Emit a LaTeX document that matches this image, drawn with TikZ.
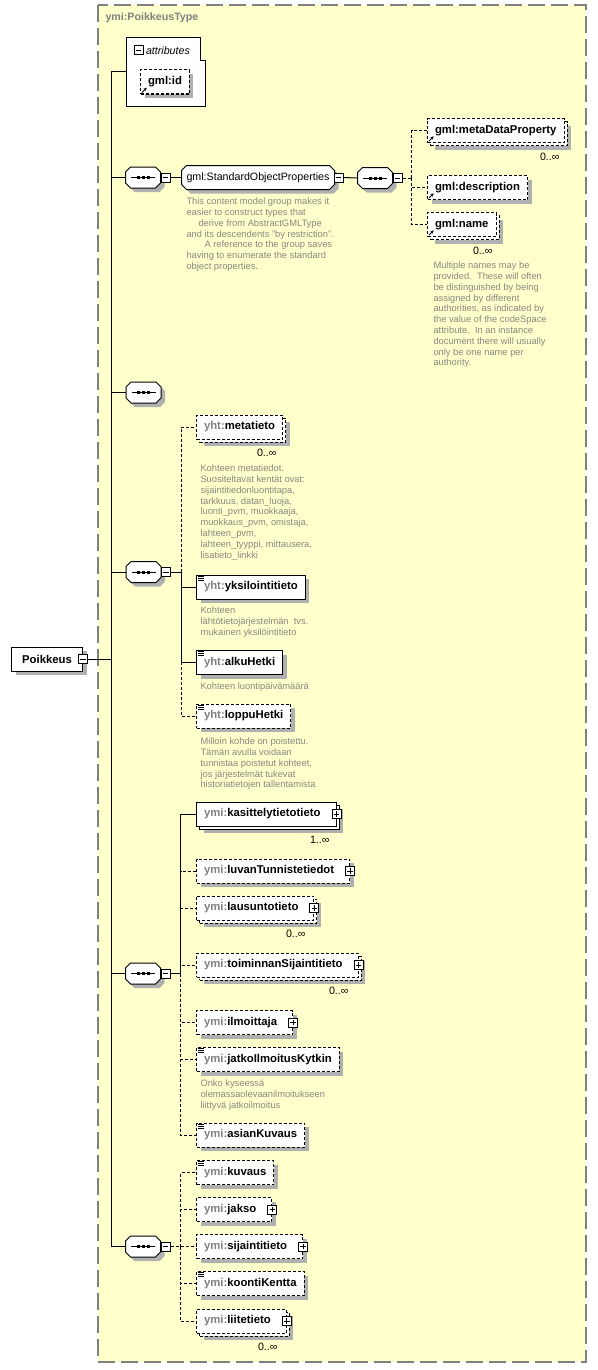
\documentclass[tikz,border=0pt]{standalone}
\usepackage{fontspec}
\setmainfont{Liberation Sans}
\usetikzlibrary{positioning,shadows,arrows.meta}
\definecolor{typefill}{RGB}{255,255,204}
\definecolor{typeline}{RGB}{128,128,128}
\definecolor{shadowgray}{RGB}{176,176,176}
\definecolor{nsgray}{RGB}{128,128,128}
\definecolor{notegray}{RGB}{136,136,128}

\newcommand\ns[1]{\textcolor{nsgray}{#1}}
\newcommand\elfont{\bfseries\fontsize{8.5}{10}\selectfont}
\newcommand\pgap{\kern6pt}
\newcommand\cutbox[2]{([xshift=#2]#1.north west) -- ([xshift=-#2]#1.north east) -- ([yshift=-#2]#1.north east) -- ([yshift=#2]#1.south east) -- ([xshift=-#2]#1.south east) -- ([xshift=#2]#1.south west) -- ([yshift=#2]#1.south west) -- ([yshift=-#2]#1.north west) -- cycle}

\tikzset{
	sh/.style={drop shadow={shadow xshift=3pt,shadow yshift=-3pt,opacity=1,fill=shadowgray}},
	many/.style={drop shadow={shadow xshift=5.25pt,shadow yshift=-5.25pt,opacity=1,fill=shadowgray},
		copy shadow={shadow xshift=2.25pt,shadow yshift=-2.25pt,fill=white,draw=black}},
	elem/.style={draw,fill=white,font=\elfont,inner xsep=5.625pt,inner ysep=0pt,minimum height=18pt,anchor=west},
	optelem/.style={elem,dash pattern=on 2.25pt off 1.5pt},
	optcon/.style={dash pattern=on 2.25pt off 1.5pt},
	comp/.style={minimum width=25.5pt,minimum height=15pt,inner sep=0pt},
	minusbox/.style={draw,fill=white,minimum size=6.75pt,inner sep=0pt,
		path picture={\draw ([xshift=1.3pt]path picture bounding box.west) -- ([xshift=-1.3pt]path picture bounding box.east);}},
	plusbox/.style={draw,fill=white,minimum size=6.75pt,inner sep=0pt,
		path picture={\draw ([xshift=1.3pt]path picture bounding box.west) -- ([xshift=-1.3pt]path picture bounding box.east);
			\draw ([yshift=1.3pt]path picture bounding box.south) -- ([yshift=-1.3pt]path picture bounding box.north);}},
	card/.style={anchor=east,inner sep=0pt,font=\fontsize{8}{10}\selectfont},
	desc/.style={anchor=north west,inner sep=0pt,align=left,text=notegray,font=\fontsize{7}{8.1}\selectfont}
}

\begin{document}
\begin{tikzpicture}[x=0.75pt,y=-0.75pt,line width=0.75pt]
	\useasboundingbox (0,0) rectangle (597,1370);
	% the complex type
	\draw[typeline,fill=typefill,line width=1.1pt,dash pattern=on 12.75pt off 4.5pt] (98,5) rectangle (586,1362);
	\node[anchor=west,inner sep=0pt,text=nsgray,font=\bfseries\fontsize{8}{10}\selectfont] (title) at (105,18) {ymi:PoikkeusType};
	
	\node[elem,sh,minimum width=53.25pt] (root) at (11,659) {Poikkeus};
	\node[minusbox] (mroot) at (root.east) {};
	\coordinate (trunk) at (111,0);
	
	% attributes
	\node[inner sep=0pt,minimum width=58.5pt,minimum height=50.25pt,anchor=north west] (attbox) at (126,38) {};
	\draw[fill=white] (attbox.north west) -- ([xshift=-3.75pt]attbox.north east) -- ([xshift=-3.75pt,yshift=-17.25pt]attbox.north east)
		-- ([yshift=-17.25pt]attbox.north east) -- (attbox.south east) -- (attbox.south west) -- cycle;
	\node[minusbox] (matt) at (138.5,50.5) {};
	\node[anchor=west,inner sep=0pt,font=\itshape\fontsize{8}{10}\selectfont] (attlbl) at ([xshift=1.5pt]matt.east) {attributes};
	\node[optelem,sh] (gmlid) at (140,82) {gml:id};
	
	% compositors and the group
	\node[comp] (seq1) at (143,177.5) {};
	\node[comp] (seq2) at (143.5,392.5) {};
	\node[comp] (seq3) at (143.5,572) {};
	\node[comp] (seq4) at (143,973.5) {};
	\node[comp] (seq5) at (143,1246.5) {};
	\node[comp] (seqg) at (375,178) {};
	\node[inner sep=0pt,minimum width=114pt,minimum height=17.25pt] (grp) at (258,177.5) {};
	\foreach \n in {seq1,seq2,seq3,seq4,seq5,seqg,grp}
		\draw[fill=white,sh] \cutbox{\n}{3.75pt};
	\foreach \n in {seq1,seq2,seq3,seq4,seq5,seqg}{
		\draw ([xshift=-9pt]\n.center) -- ([xshift=9pt]\n.center);
		\foreach \dx in {-3.75pt,0pt,3.75pt}
			\fill ([xshift=\dx]\n.center) +(-1.5,-1.5) rectangle +(1.5,1.5);
	}
	\node[inner sep=0pt,font=\fontsize{8}{10}\selectfont] (grptxt) at (grp.center) {gml:StandardObjectProperties};
	
	\node[minusbox,right=0pt of seq1] (m1) {};
	\node[minusbox,right=0pt of seq3] (m3) {};
	\node[minusbox,right=0pt of seq4] (m4) {};
	\node[minusbox,right=0pt of seq5] (m5) {};
	\node[minusbox,right=0pt of seqg] (mg) {};
	\node[minusbox] (mgrp) at ([xshift=3pt]grp.east) {};
	
	% elements
	\node[optelem,many] (meta) at (427,130.5) {gml:metaDataProperty};
	\node[optelem,sh] (descr) at (427,187.5) {gml:description};
	\node[optelem,many] (gname) at (427,224.5) {gml:name};
	
	\node[optelem,many] (metat) at (196,427) {\ns{yht:}metatieto};
	\node[elem,sh] (yks) at (196,587) {\ns{yht:}yksilointitieto};
	\node[elem,sh] (alku) at (196,662.5) {\ns{yht:}alkuHetki};
	\node[optelem,sh] (loppu) at (196,716) {\ns{yht:}loppuHetki};
	
	\node[elem,many] (kas) at (196,814) {\ns{ymi:}kasittelytietotieto\pgap};
	\node[optelem,sh] (luvan) at (196,871) {\ns{ymi:}luvanTunnistetiedot\pgap};
	\node[optelem,many] (lausu) at (196,908) {\ns{ymi:}lausuntotieto\pgap};
	\node[optelem,many] (toimi) at (196,965) {\ns{ymi:}toiminnanSijaintitieto\pgap};
	\node[optelem,sh] (ilmo) at (196,1022.5) {\ns{ymi:}ilmoittaja\pgap};
	\node[optelem,sh] (jatko) at (196,1059.5) {\ns{ymi:}jatkoIlmoitusKytkin};
	\node[optelem,sh] (asian) at (196,1135) {\ns{ymi:}asianKuvaus};
	
	\node[optelem,sh] (kuvaus) at (196,1172.5) {\ns{ymi:}kuvaus};
	\node[optelem,sh] (jakso) at (196,1209.5) {\ns{ymi:}jakso\pgap};
	\node[optelem,sh] (sijai) at (196,1246.5) {\ns{ymi:}sijaintitieto\pgap};
	\node[optelem,sh] (koonti) at (196,1283.5) {\ns{ymi:}koontiKentta};
	\node[optelem,many] (liite) at (196,1321) {\ns{ymi:}liitetieto\pgap};
	
	\foreach \n in {kas,luvan,lausu,toimi,ilmo,jakso,sijai,liite}
		\node[plusbox] (p\n) at (\n.east) {};
	\foreach \n in {yks,alku,loppu,jatko,asian,kuvaus,koonti}
		\foreach \dy in {1.2pt,2.7pt,4.2pt}
			\draw[line width=0.6pt] ([xshift=1.5pt,yshift=-\dy]\n.north west) -- ++(4.5pt,0pt);
	\foreach \n in {gmlid,meta,descr,gname}
		\draw[line width=0.6pt,-{Stealth[length=2.4pt,width=2.4pt]}] ([xshift=1.5pt,yshift=1.5pt]\n.south west) -- ++(3.5pt,3.5pt);
	
	% occurrences
	\node[card] (cmeta) at (560,157) {0..∞};
	\node[card] (cgname) at (493,251) {0..∞};
	\node[card] (cmetat) at (277,453) {0..∞};
	\node[card] (ckas) at (330,840) {1..∞};
	\node[card] (clausu) at (306,934) {0..∞};
	\node[card] (ctoimi) at (349,991) {0..∞};
	\node[card] (cliite) at (278,1347) {0..∞};
	
	% annotations
	\node[desc] (dgrp) at (186,197.5) {This content model group makes it\\easier to construct types that\\\hspace*{9pt}derive from AbstractGMLType\\and its descendents "by restriction".\\\hspace*{13.5pt}A reference to the group saves\\having to enumerate the standard\\object properties.};
	\node[desc] (dgname) at (433,261.5) {Multiple names may be\\provided.\ \ These will often\\be distinguished by being\\assigned by different\\authorities, as indicated by\\the value of the codeSpace\\attribute.\ \ In an instance\\document there will usually\\only be one name per\\authority.};
	\node[desc] (dmetat) at (200,464.5) {Kohteen metatiedot.\\Suositeltavat kentät ovat:\\sijaintitiedonluontitapa,\\tarkkuus, datan\_luoja,\\luonti\_pvm, muokkaaja,\\muokkaus\_pvm, omistaja,\\lahteen\_pvm,\\lahteen\_tyyppi, mittausera,\\lisatieto\_linkki};
	\node[desc] (dyks) at (200,606.5) {Kohteen\\lähtötietojärjestelmän\ \ tvs.\\mukainen yksilöintitieto};
	\node[desc] (dalku) at (200,682.5) {Kohteen luontipäivämäärä};
	\node[desc] (dloppu) at (200,737.5) {Milloin kohde on poistettu.\\Tämän avulla voidaan\\tunnistaa poistetut kohteet,\\jos järjestelmät tukevat\\historiatietojen tallentamista};
	\node[desc] (djatko) at (200,1079.5) {Onko kyseessä\\olemassaolevaanilmoitukseen\\liittyvä jatkoilmoitus};
	
	% connectors
	\draw (mroot.east) -- (trunk |- mroot.east);
	\draw (trunk |- attbox.west) -- (trunk |- seq5.west);
	\foreach \n in {attbox,seq1,seq2,seq3,seq4,seq5}
		\draw (trunk |- \n.west) -- (\n.west);
	\draw (m1.east) -- (grp.west);
	\draw (mgrp.east) -- (seqg.west);
	
	\coordinate (bg) at ([xshift=6.75pt]mg.east);
	\draw[optcon] (mg.east) -- (bg);
	\foreach \n in {meta,descr,gname}
		\draw[optcon] (bg) |- (\n.west);
	
	\coordinate (b3) at ([xshift=7.5pt]m3.east);
	\draw (m3.east) -- (b3);
	\draw (b3) |- (yks.west);
	\draw (b3) |- (alku.west);
	\draw[optcon] (b3) |- (metat.west);
	\draw[optcon] (b3) |- (loppu.west);
	
	\coordinate (b4) at ([xshift=7.5pt]m4.east);
	\draw (m4.east) -- (b4);
	\draw (b4) |- (kas.west);
	\foreach \n in {luvan,lausu,toimi,ilmo,jatko,asian}
		\draw[optcon] (b4) |- (\n.west);
	
	\coordinate (b5) at ([xshift=7.5pt]m5.east);
	\draw[optcon] (m5.east) -- (b5);
	\foreach \n in {kuvaus,jakso,sijai,koonti,liite}
		\draw[optcon] (b5) |- (\n.west);
\end{tikzpicture}
\end{document}
